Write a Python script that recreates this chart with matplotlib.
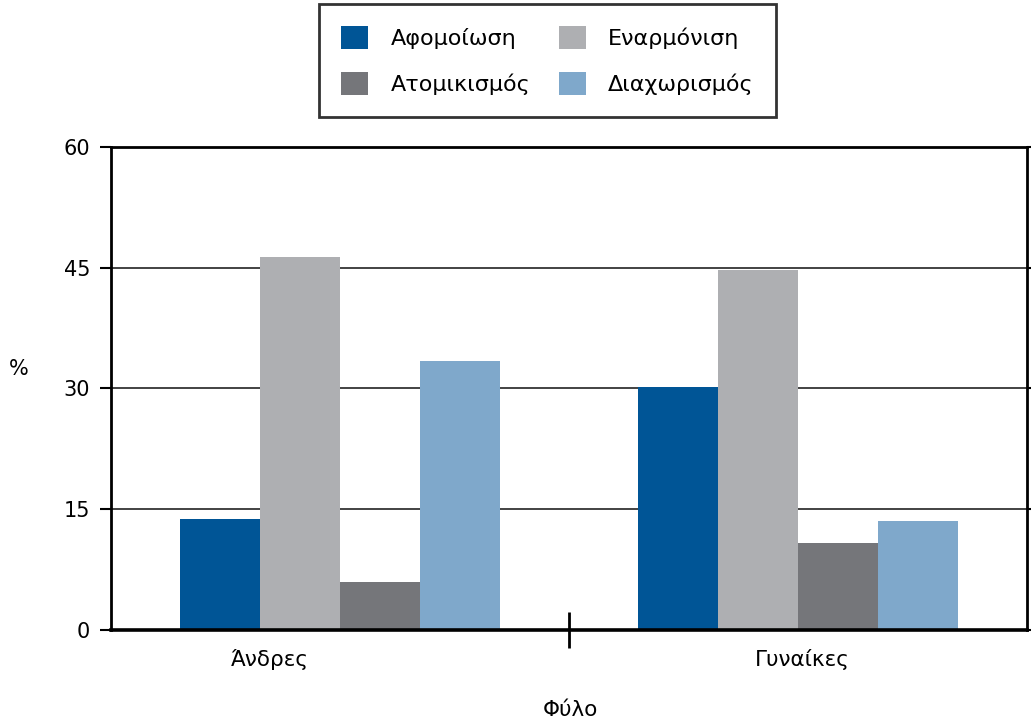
import matplotlib
matplotlib.use("Agg")
import matplotlib.pyplot as plt
import numpy as np
from matplotlib.patches import Patch
from matplotlib.transforms import blended_transform_factory

# Data
categories = ["Άνδρες", "Γυναίκες"]
series_names = ["Αφομοίωση", "Εναρμόνιση", "Ατομικισμός", "Διαχωρισμός"]
afomoiosi = [13.7, 30.2]
enarmonisi = [46.3, 44.7]
atomikismos = [5.9, 10.7]
diaxorismos = [33.4, 13.5]
y_ticks = [0, 15, 30, 45, 60]

series_values = [afomoiosi, enarmonisi, atomikismos, diaxorismos]
colors = ["#005596", "#AEAFB2", "#75767A", "#7FA8CB"]
# horizontal shift of each category label, in x data units
label_shift = [-0.153, 0.009]

plt.rcParams["font.family"] = ["DejaVu Sans"]

fig = plt.figure(figsize=(10.31, 7.23), dpi=100)
ax = fig.add_axes([0.1077, 0.1293, 0.9961 - 0.1077, 0.7967 - 0.1293])

x = np.arange(len(categories))
width = 0.175
n = len(series_values)
for i, (vals, col) in enumerate(zip(series_values, colors)):
    offs = (i - (n - 1) / 2) * width
    ax.bar(x + offs, vals, width=width, color=col, linewidth=0, zorder=3)

ax.set_xlim(-0.5, 1.5)
ax.set_ylim(0, 60)
ax.set_yticks(y_ticks)
ax.set_yticklabels([str(v) for v in y_ticks], fontsize=15)
ax.yaxis.grid(True, color="#222222", linewidth=1.2, zorder=1)
ax.tick_params(axis="y", direction="out", length=8, width=1.5, pad=7,
               right=True, labelright=False)

# Single divider tick between the two groups
ax.set_xticks([0.5])
ax.set_xticklabels([""])
ax.tick_params(axis="x", direction="inout", length=26, width=2)

for s in ["left", "right", "top"]:
    ax.spines[s].set_linewidth(2)
ax.spines["bottom"].set_linewidth(2.6)
ax.spines["bottom"].set_zorder(4)

# Category labels
trans = blended_transform_factory(ax.transData, ax.transAxes)
for xi, lab, sh in zip(x, categories, label_shift):
    ax.text(xi + sh, -0.063, lab, transform=trans, ha="center",
            va="center", fontsize=15.5)

fig.text(19 / 1031, 1 - 369 / 723, "%", ha="center", va="center", fontsize=15)
fig.text(570 / 1031, 1 - 710 / 723, "Φύλο", ha="center", va="center", fontsize=15.5)

handles = [Patch(facecolor=c, edgecolor="none") for c in colors]
order = [0, 2, 1, 3]
leg = fig.legend([handles[i] for i in order], [series_names[i] for i in order],
                 ncol=2, loc="center", bbox_to_anchor=(547.5 / 1031, 1 - 60.5 / 723),
                 fontsize=16, frameon=True, fancybox=False, edgecolor="black",
                 handlelength=1.2, handleheight=1.2, handletextpad=1.0,
                 columnspacing=1.3, labelspacing=1.05, borderpad=1.0,
                 borderaxespad=0)
leg.get_frame().set_linewidth(2)

fig.savefig("out.png", dpi=100)
